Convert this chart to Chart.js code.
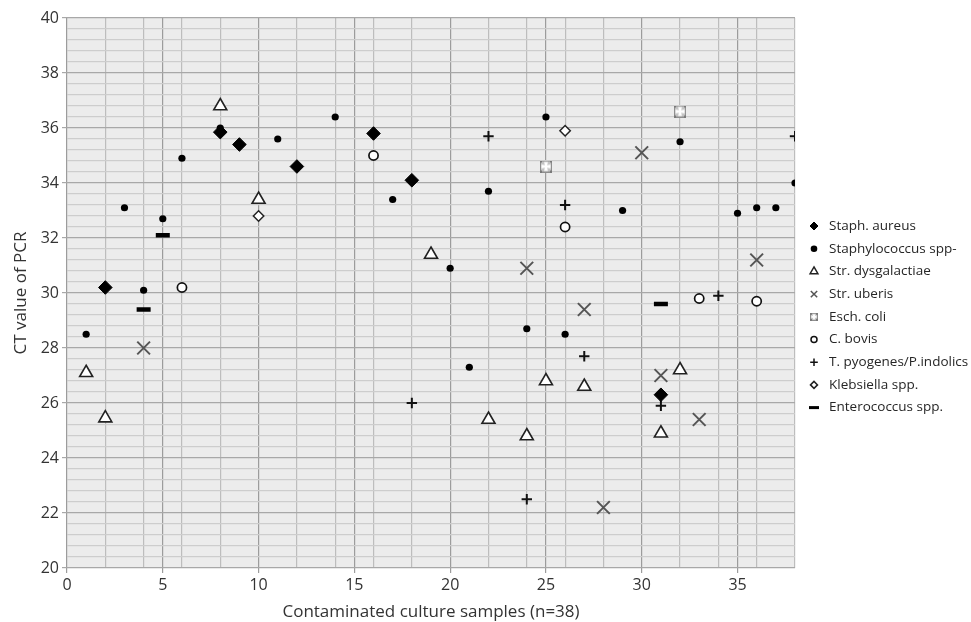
<!DOCTYPE html>
<html>
<head>
<meta charset="utf-8">
<script src="https://cdn.jsdelivr.net/npm/chart.js@4/dist/chart.umd.min.js"></script>
<style>
  html, body { margin: 0; padding: 0; background: #fff; }
  #wrap { position: relative; width: 971px; height: 622px; }
</style>
</head>
<body>
<div id="wrap"><canvas id="c" width="971" height="622"></canvas></div>
<script>
// ---- Data ----
const seriesNames = [
  "Staph. aureus", "Staphylococcus spp-", "Str. dysgalactiae", "Str. uberis",
  "Esch. coli", "C. bovis", "T. pyogenes/P.indolics", "Klebsiella spp.", "Enterococcus spp."
];
const staphAureusX = [2, 8, 9, 12, 16, 18, 31];
const staphAureusY = [30.2, 35.85, 35.4, 34.6, 35.8, 34.1, 26.3];
const staphSppX = [1, 3, 4, 5, 6, 8, 11, 14, 17, 20, 21, 22, 24, 25, 26, 29, 32, 35, 36, 37, 38];
const staphSppY = [28.5, 33.1, 30.1, 32.7, 34.9, 36.0, 35.6, 36.4, 33.4, 30.9, 27.3, 33.7, 28.7, 36.4, 28.5, 33.0, 35.5, 32.9, 33.1, 33.1, 34.0];
const strDysX = [1, 2, 8, 10, 19, 22, 24, 25, 27, 31, 32];
const strDysY = [27.1, 25.45, 36.8, 33.4, 31.4, 25.4, 24.8, 26.8, 26.6, 24.9, 27.2];
const strUberisX = [4, 24, 27, 28, 30, 31, 33, 36];
const strUberisY = [28.0, 30.9, 29.4, 22.2, 35.1, 27.0, 25.4, 31.2];
const eschColiX = [25, 32];
const eschColiY = [34.6, 36.6];
const cBovisX = [6, 16, 26, 33, 36];
const cBovisY = [30.2, 35.0, 32.4, 29.8, 29.7];
const tPyoX = [18, 22, 24, 26, 27, 31, 34, 38];
const tPyoY = [26.0, 35.7, 22.5, 33.2, 27.7, 25.9, 29.9, 35.7];
const klebX = [10, 26];
const klebY = [32.8, 35.9];
const enteroX = [4, 5, 31];
const enteroY = [29.4, 32.1, 29.6];

const xTitle = "Contaminated culture samples (n=38)";
const yTitle = "CT value of PCR";

// ---- marker images for Esch. coli ----
function makeEschIcon(s) {
  const cv = document.createElement('canvas');
  cv.width = s; cv.height = s;
  const g = cv.getContext('2d');
  g.fillStyle = '#8e8e8e';
  g.fillRect(0, 0, s, s);
  g.fillStyle = '#c4c4c4';
  g.fillRect(1, 1, s - 2, s - 2);
  g.fillStyle = '#ffffff';
  const m = s / 2, a = s * 0.16, b = s * 0.36;
  g.beginPath();
  g.moveTo(m - a, 1.5); g.lineTo(m + a, 1.5); g.lineTo(m + a * 0.6, m - a * 0.6);
  g.lineTo(s - 1.5, m - a); g.lineTo(s - 1.5, m + a); g.lineTo(m + a * 0.6, m + a * 0.6);
  g.lineTo(m + a, s - 1.5); g.lineTo(m - a, s - 1.5); g.lineTo(m - a * 0.6, m + a * 0.6);
  g.lineTo(1.5, m + a); g.lineTo(1.5, m - a); g.lineTo(m - a * 0.6, m - a * 0.6);
  g.closePath(); g.fill();
  g.fillStyle = '#7a7a7a';
  g.fillRect(0, 0, 2, 2); g.fillRect(s - 2, 0, 2, 2); g.fillRect(0, s - 2, 2, 2); g.fillRect(s - 2, s - 2, 2, 2);
  return cv;
}
const eschIcon = makeEschIcon(12);
const eschIconSmall = makeEschIcon(8);

function pts(xs, ys) { return xs.map((x, i) => ({ x: x, y: ys[i] })); }

const styles = [
  { pointStyle: 'rectRot', radius: 6.8, bg: '#000', border: '#000', bw: 1, lr: 4 },
  { pointStyle: 'circle', radius: 3.6, bg: '#000', border: '#000', bw: 0, lr: 3.3 },
  { pointStyle: 'triangle', radius: 7.5, bg: '#fff', border: '#222', bw: 1.6, lr: 4.5 },
  { pointStyle: 'crossRot', radius: 9, bg: '#555', border: '#555', bw: 2, lr: 4.5 },
  { pointStyle: eschIcon, radius: 6, bg: '#999', border: '#999', bw: 0, lr: 4, legendImg: eschIconSmall },
  { pointStyle: 'circle', radius: 4.6, bg: '#fff', border: '#111', bw: 1.7, lr: 3 },
  { pointStyle: 'cross', radius: 5.2, bg: '#111', border: '#111', bw: 2, lr: 3.8 },
  { pointStyle: 'rectRot', radius: 5.2, bg: '#fff', border: '#222', bw: 1.5, lr: 3.5 },
  { pointStyle: 'line', radius: 7, bg: '#000', border: '#000', bw: 4.5, lr: 5, lbw: 3 }
];
const seriesData = [
  pts(staphAureusX, staphAureusY), pts(staphSppX, staphSppY), pts(strDysX, strDysY),
  pts(strUberisX, strUberisY), pts(eschColiX, eschColiY), pts(cBovisX, cBovisY),
  pts(tPyoX, tPyoY), pts(klebX, klebY), pts(enteroX, enteroY)
];

// draw order: draw later datasets under earlier? keep order so diamonds are on top
const datasets = seriesNames.map((name, i) => ({
  label: name,
  data: seriesData[i],
  pointStyle: styles[i].pointStyle,
  pointRadius: styles[i].radius,
  pointHoverRadius: styles[i].radius,
  backgroundColor: styles[i].bg,
  borderColor: styles[i].border,
  borderWidth: styles[i].bw,
  showLine: false,
  order: i
}));

const FONT = "'Open Sans', 'Liberation Sans', sans-serif";

const legendPlugin = {
  id: 'customLegend',
  afterDraw(chart) {
    const ctx = chart.ctx;
    ctx.save();
    const mx = 814, tx = 829, y0 = 226, dy = 22.7;
    seriesNames.forEach((name, i) => {
      const st = styles[i];
      const y = y0 + i * dy;
      ctx.save();
      ctx.fillStyle = st.bg;
      ctx.strokeStyle = st.border;
      ctx.lineWidth = st.lbw || Math.min(st.bw, 1.5);
      Chart.helpers.drawPoint(ctx, {
        pointStyle: st.legendImg || st.pointStyle,
        radius: st.lr,
        rotation: 0,
        borderWidth: st.lbw || Math.min(st.bw, 1.5)
      }, mx, y);
      ctx.restore();
      ctx.fillStyle = '#262626';
      ctx.font = "13.5px " + FONT;
      ctx.textBaseline = 'middle';
      ctx.textAlign = 'left';
      ctx.fillText(name, tx, y);
    });
    ctx.restore();
  }
};

const bgPlugin = {
  id: 'plotBg',
  beforeDraw(chart) {
    const a = chart.chartArea;
    const ctx = chart.ctx;
    ctx.save();
    ctx.fillStyle = '#ececec';
    ctx.fillRect(a.left, a.top, a.right - a.left, a.bottom - a.top);
    ctx.restore();
  }
};

function isMult(v, m) { return Math.abs(v / m - Math.round(v / m)) < 1e-6; }

new Chart(document.getElementById('c'), {
  type: 'scatter',
  data: { datasets: datasets },
  plugins: [bgPlugin, legendPlugin],
  options: {
    responsive: false,
    animation: false,
    events: [],
    layout: { padding: { top: 18, right: 176, left: 0, bottom: 0 } },
    plugins: { legend: { display: false }, tooltip: { enabled: false } },
    scales: {
      x: {
        type: 'linear', min: 0, max: 38,
        afterFit(s) { s.height = 54; },
        border: { display: false },
        ticks: {
          stepSize: 1, autoSkip: false, maxRotation: 0, padding: 3,
          color: '#333', font: { family: FONT, size: 16 },
          callback: (v) => isMult(v, 5) ? String(v) : ''
        },
        grid: {
          drawTicks: true, tickLength: 5,
          color: (c) => {
            const v = c.tick ? c.tick.value : 0;
            if (isMult(v, 5)) return '#9c9c9c';
            if (isMult(v, 2)) return '#bdbdbd';
            return 'rgba(0,0,0,0)';
          },
          tickColor: (c) => (c.tick && isMult(c.tick.value, 5)) ? '#9c9c9c' : 'rgba(0,0,0,0)',
          lineWidth: 1.2
        },
        title: {
          display: true, text: xTitle, color: '#333',
          font: { family: FONT, size: 17 }, padding: { top: 0, bottom: 0 }
        }
      },
      y: {
        type: 'linear', min: 20, max: 40,
        afterFit(s) { s.width = 67; },
        border: { display: false },
        ticks: {
          stepSize: 0.4, autoSkip: false, maxTicksLimit: 1000, padding: 3,
          color: '#333', font: { family: FONT, size: 16 },
          callback: (v) => isMult(v, 2) ? String(Math.round(v)) : ''
        },
        grid: {
          drawTicks: true, tickLength: 5,
          color: (c) => {
            const v = c.tick ? c.tick.value : 0;
            return isMult(v, 2) ? '#a8a8a8' : '#cdcdcd';
          },
          tickColor: (c) => (c.tick && isMult(c.tick.value, 2)) ? '#a8a8a8' : 'rgba(0,0,0,0)',
          lineWidth: 1.2
        },
        title: {
          display: true, text: yTitle, color: '#333',
          font: { family: FONT, size: 17 }, padding: { top: 11, bottom: 0 }
        }
      }
    }
  }
});
</script>
</body>
</html>
